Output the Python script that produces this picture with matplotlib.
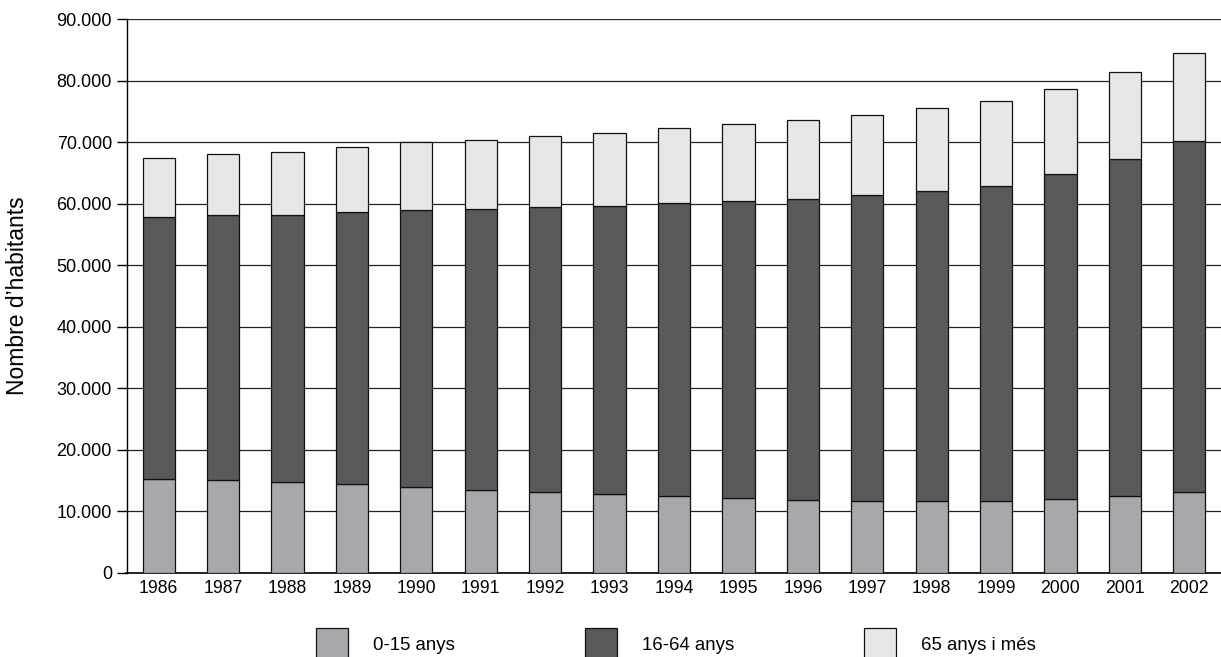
import matplotlib
matplotlib.use("Agg")
import matplotlib.pyplot as plt
import matplotlib.ticker as mtick
import numpy as np

plt.rcParams["font.family"] = ["Liberation Sans", "DejaVu Sans"]

# ── Dades (llegides del gràfic) ──
YEARS = ["1986", "1987", "1988", "1989", "1990", "1991", "1992", "1993", "1994",
         "1995", "1996", "1997", "1998", "1999", "2000", "2001", "2002"]
age_0_15  = [15300, 15000, 14700, 14400, 13900, 13500, 13100, 12800, 12400,
             12100, 11900, 11700, 11600, 11700, 12000, 12500, 13200]
age_16_64 = [42600, 43150, 43450, 44250, 45100, 45600, 46300, 46850, 47700,
             48400, 48950, 49650, 50400, 51250, 52850, 54700, 56950]
age_65    = [9600, 10000, 10300, 10650, 11100, 11300, 11550, 11900, 12200,
             12450, 12800, 13100, 13500, 13800, 13850, 14200, 14450]
LABELS = ["0-15 anys", "16-64 anys", "65 anys i més"]
COLORS = ["#a7a8ab", "#58595b", "#e6e7e8"]

W, H = 1221, 657
fig = plt.figure(figsize=(W / 100, H / 100), dpi=100)
ax = fig.add_axes([126.5 / W, 1 - 572.7 / H, (1221.5 - 126.5) / W, (572.7 - 19.3) / H])

x = np.arange(len(YEARS))
b1 = np.array(age_0_15)
b2 = b1 + np.array(age_16_64)

bars = []
for vals, bottom, color, label in [(age_0_15, 0, COLORS[0], LABELS[0]),
                                   (age_16_64, b1, COLORS[1], LABELS[1]),
                                   (age_65, b2, COLORS[2], LABELS[2])]:
    bars.append(ax.bar(x, vals, 0.5, bottom=bottom, color=color,
                       edgecolor="#111111", linewidth=0.9, label=label, zorder=3))

# eixos
ax.set_xlim(-0.5, len(YEARS) - 0.5)
ax.set_ylim(0, 90000)
ax.set_yticks(np.arange(0, 90001, 10000))
ax.yaxis.set_major_formatter(mtick.FuncFormatter(lambda v, p: f"{int(v):,}".replace(",", ".")))
ax.set_xticks(x)
ax.set_xticklabels(YEARS)
ax.tick_params(axis="x", length=0, pad=5.5, labelsize=12.7)
ax.tick_params(axis="y", length=7, width=1, pad=3.5, labelsize=13)
ax.yaxis.grid(True, color="#222222", linewidth=0.9, zorder=0)
ax.set_axisbelow(True)
ax.spines[["top", "right"]].set_visible(False)
ax.spines["left"].set_linewidth(1)
ax.spines["bottom"].set_linewidth(1.2)

ax.set_ylabel("Nombre d\u2019habitants", fontsize=16.5)
ax.yaxis.set_label_coords(-0.0886, 0.5)

# llegenda a baix (retallada pel marge inferior)
fig.legend(handles=bars, labels=LABELS, loc="upper left",
           bbox_to_anchor=(316 / W, 1 - 628 / H), ncol=3, frameon=False,
           fontsize=13.4, handlelength=1.71, handleheight=2.28,
           handletextpad=1.35, columnspacing=6.98, borderpad=0, borderaxespad=0)

plt.savefig("out.png", dpi=100)
plt.close()
